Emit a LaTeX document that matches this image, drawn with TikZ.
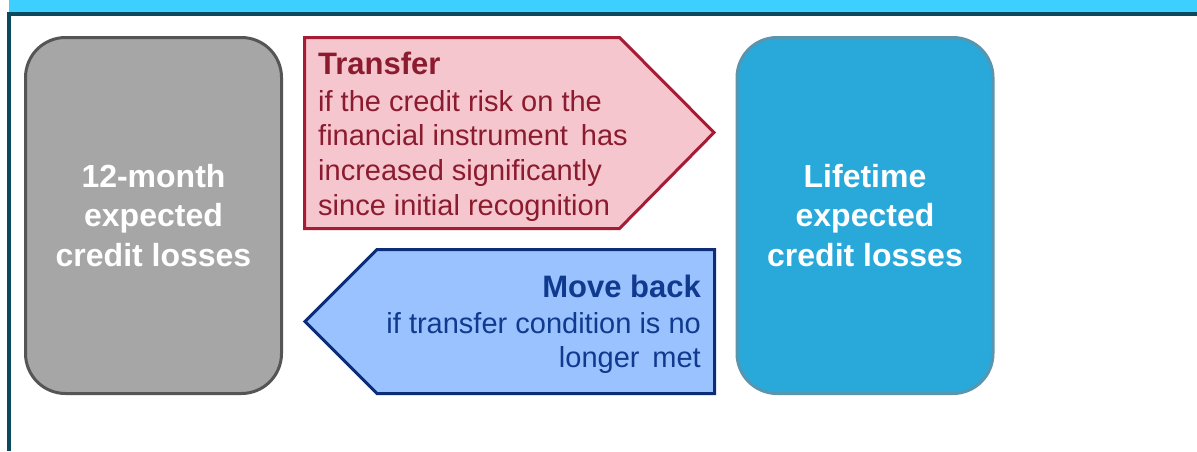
\documentclass[tikz,border=0pt]{standalone}
\usepackage{fontspec}
\setmainfont{Liberation Sans}
\definecolor{barcyan}{HTML}{3DCFFF}
\definecolor{frameteal}{HTML}{0B4A5E}
\definecolor{boxgray}{HTML}{A6A6A6}
\definecolor{boxgrayline}{HTML}{555555}
\definecolor{boxblue}{HTML}{29A8DA}
\definecolor{boxblueline}{HTML}{5896B0}
\definecolor{redfill}{HTML}{F6C6CF}
\definecolor{redline}{HTML}{A61C34}
\definecolor{redtext}{HTML}{8B1B2E}
\definecolor{bluefill}{HTML}{99C2FF}
\definecolor{blueline}{HTML}{0E2D78}
\definecolor{bluetext}{HTML}{103A8E}
\begin{document}
\begin{tikzpicture}[x=1pt,y=-1pt,
  lossbox/.style={rounded corners=40pt, line width=3pt, inner sep=0pt, outer sep=0pt,
    minimum width=256pt, minimum height=356pt, text=white, align=center,
    font=\bfseries\fontsize{32}{39.5}\selectfont},
  arrowshape/.style={line width=3pt, line join=miter},
  titletext/.style={inner sep=0pt, font=\bfseries\fontsize{31}{31}\selectfont},
  bodytext/.style={inner sep=0pt, font=\fontsize{29}{29}\selectfont}]
\useasboundingbox (0,0) rectangle (1197,451);
\fill[white] (0,0) rectangle (1197,451);
% header bar and frame
\fill[barcyan] (9,0) rectangle (1197,14);
\draw[frameteal, line width=4pt] (9,451) -- (9,14) -- (1197,14);
% stage boxes
\node[lossbox, fill=boxgray, draw=boxgrayline] (stage1) at (153.5,215.5)
  {12-month\\expected\\credit losses};
\node[lossbox, fill=boxblue, draw=boxblueline] (stage2) at (865,215.5)
  {Lifetime\\expected\\credit losses};
% transfer arrow
\draw[arrowshape, fill=redfill, draw=redline]
  (304.5,37.5) -- (619.5,37.5) -- (714,132.5) -- (619.5,228.5) -- (304.5,228.5) -- cycle;
\node[titletext, text=redtext, anchor=base west] (ttitle) at (318,74) {Transfer};
\node[bodytext, text=redtext, anchor=base west] (tl1) at (318,111) {if the credit risk on the};
\node[bodytext, text=redtext, anchor=base west] (tl2) at (318,145.5) {financial instrument\, has};
\node[bodytext, text=redtext, anchor=base west] (tl3) at (318,180.5) {increased significantly};
\node[bodytext, text=redtext, anchor=base west] (tl4) at (318,215) {since initial recognition};
% move back arrow
\draw[arrowshape, fill=bluefill, draw=blueline]
  (305,321.5) -- (377,249.5) -- (714.5,249.5) -- (714.5,393.5) -- (377,393.5) -- cycle;
\node[titletext, text=bluetext, anchor=base east] (mtitle) at (701,297) {Move back};
\node[bodytext, text=bluetext, anchor=base east] (ml1) at (701,333) {if transfer condition is no};
\node[bodytext, text=bluetext, anchor=base east] (ml2) at (701,367) {longer\, met};
\end{tikzpicture}
\end{document}
